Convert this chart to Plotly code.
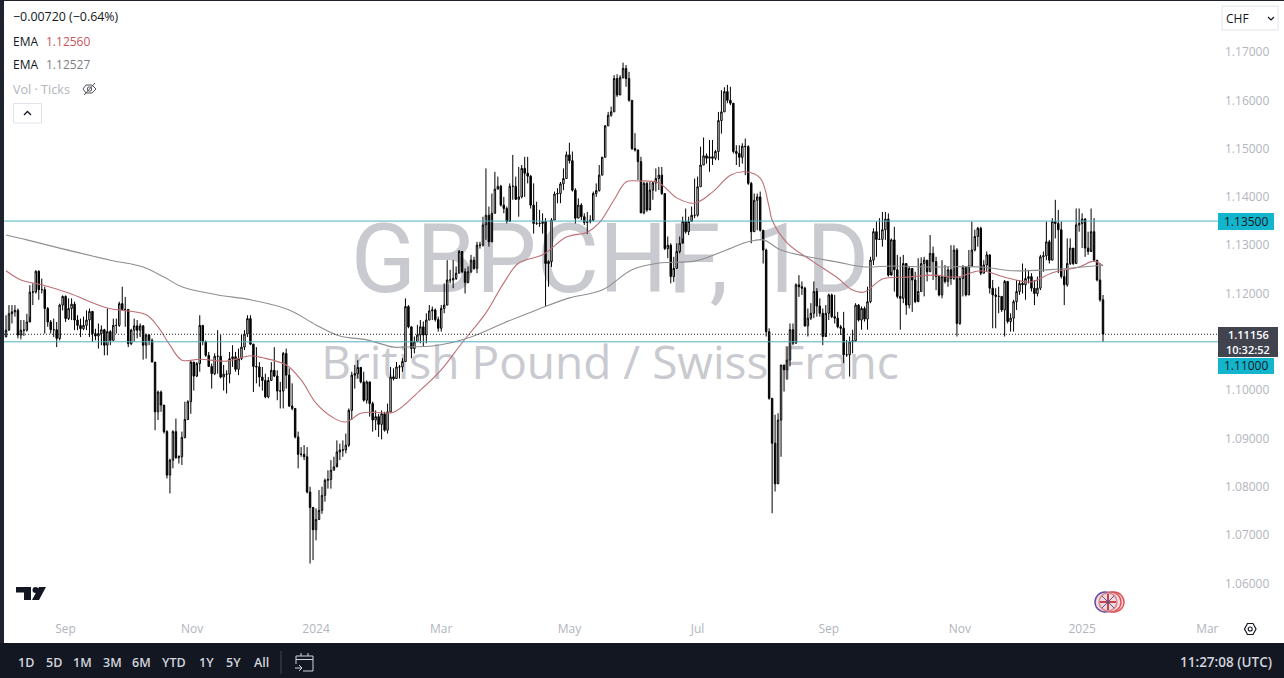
import plotly.graph_objects as go

W, H = 1284, 678

first_open = 1.1110
closes = [
1.1124,1.1158,1.1162,1.1165,1.1114,1.1124,1.1124,1.1141,1.1203,1.1203,1.1246,1.1208,1.1208,1.1169,1.1141,1.1125,1.1125,1.1107,1.1176,1.1194,1.1148,1.1169,1.1178,1.1145,1.1134,1.1127,1.1134,1.1145,1.1163,1.1117,1.1112,1.1117,1.1125,1.1093,1.1121,1.1103,1.1134,1.1134,1.1179,1.1167,1.1167,1.1096,1.1124,1.1133,1.1124,1.1133,1.1093,1.1114,1.1103,1.1058,1.0955,1.0996,1.0969,1.0914,1.0824,1.0855,1.0914,1.0860,1.0862,1.0902,1.0939,1.0976,1.1058,1.1029,1.1055,1.1134,1.1100,1.1072,1.1049,1.1034,1.1070,1.1070,1.1027,1.1033,1.1033,1.1065,1.1069,1.1043,1.1065,1.1089,1.1116,1.1148,1.1095,1.1049,1.1048,1.1027,1.1020,1.0986,1.1020,1.1041,1.1029,1.0998,1.0998,1.1076,1.1031,1.0967,1.0962,1.0903,1.0867,1.0867,1.0862,1.0789,1.0757,1.0711,1.0732,1.0751,1.0782,1.0813,1.0815,1.0834,1.0841,1.0872,1.0876,1.0876,1.0886,1.0958,1.1031,1.1034,1.1047,1.1017,1.0979,1.1017,1.0972,1.0938,1.0945,1.0929,1.0951,1.0917,1.0955,1.1027,1.1024,1.1048,
1.1048,1.1059,1.1173,1.1131,1.1086,1.1100,1.1114,1.1131,1.1114,1.1145,1.1164,1.1166,1.1146,1.1128,1.1169,1.1176,1.1228,1.1228,1.1231,1.1242,1.1287,1.1245,1.1223,1.1245,1.1269,1.1252,1.1300,1.1300,1.1342,1.1362,1.1307,1.1366,1.1416,1.1422,1.1383,1.1376,1.1349,1.1422,1.1422,1.1395,1.1400,1.1459,1.1449,1.1443,1.1383,1.1345,1.1345,1.1345,1.1349,1.1262,1.1266,1.1352,1.1406,1.1407,1.1427,1.1438,1.1487,1.1475,1.1414,1.1356,1.1383,1.1359,1.1347,1.1349,1.1352,1.1407,1.1413,1.1445,1.1482,1.1547,1.1569,1.1576,1.1645,1.1611,1.1647,1.1666,1.1645,1.1600,1.1500,1.1497,1.1473,1.1367,1.1428,1.1373,1.1414,1.1429,1.1438,1.1445,1.1407,1.1293,1.1300,1.1235,1.1252,1.1287,1.1304,1.1349,1.1328,1.1349,1.1362,1.1362,1.1421,1.1466,1.1485,1.1480,1.1483,1.1480,1.1494,1.1558,1.1576,1.1618,1.1600,1.1594,1.1494,1.1490,1.1482,1.1505,1.1504,1.1428,1.1328,1.1393,1.1400,1.1331,1.1290,1.1121,
1.0983,1.0890,1.0806,1.0938,1.1052,1.1042,1.1062,1.1125,1.1097,1.1218,1.1214,1.1211,1.1133,1.1149,1.1159,1.1204,1.1174,1.1159,1.1111,1.1159,1.1197,1.1152,1.1149,1.1131,1.1128,1.1073,1.1073,1.1100,1.1102,1.1176,1.1145,1.1169,1.1147,1.1183,1.1269,1.1328,1.1312,1.1312,1.1332,1.1354,1.1238,1.1311,1.1249,1.1194,1.1190,1.1262,1.1176,1.1252,1.1228,1.1183,1.1204,1.1262,1.1269,1.1245,1.1283,1.1266,1.1235,1.1197,1.1235,1.1225,1.1249,1.1231,1.1290,1.1138,1.1231,1.1254,1.1197,1.1257,1.1290,1.1318,1.1335,1.1242,1.1259,1.1280,1.1211,1.1197,1.1194,1.1194,1.1166,1.1225,1.1142,1.1149,1.1183,1.1204,1.1221,1.1218,1.1231,1.1235,1.1211,1.1200,1.1211,1.1276,1.1278,1.1307,1.1269,1.1349,1.1345,1.1332,1.1235,1.1218,1.1262,1.1294,1.1262,1.1342,1.1345,1.1354,1.1294,1.1287,1.1328,1.1269,1.1228,1.1187,1.1116,
]
highs = [
1.1155,1.1176,1.1176,1.1176,1.1169,1.1145,1.1145,1.1158,1.1217,1.1221,1.1248,1.1248,1.1231,1.1214,1.1172,1.1145,1.1148,1.1141,1.1179,1.1196,1.1196,1.1190,1.1190,1.1183,1.1155,1.1148,1.1152,1.1165,1.1169,1.1163,1.1127,1.1138,1.1134,1.1127,1.1169,1.1124,1.1148,1.1148,1.1183,1.1214,1.1193,1.1165,1.1127,1.1148,1.1145,1.1138,1.1134,1.1117,1.1116,1.1107,1.1058,1.0999,1.0999,1.0969,1.0917,1.0858,1.0917,1.0941,1.0865,1.0914,1.0976,1.0979,1.1062,1.1058,1.1058,1.1155,1.1134,1.1103,1.1079,1.1055,1.1076,1.1124,1.1114,1.1052,1.1041,1.1079,1.1093,1.1079,1.1086,1.1114,1.1124,1.1155,1.1155,1.1096,1.1089,1.1058,1.1048,1.1034,1.1027,1.1058,1.1089,1.1041,1.1017,1.1079,1.1086,1.1045,1.1014,1.0962,1.0914,1.0882,1.0886,1.0882,1.0800,1.0758,1.0755,1.0793,1.0800,1.0817,1.0834,1.0855,1.0862,1.0896,1.0889,1.0896,1.0910,1.0962,1.1038,1.1052,1.1062,1.1045,1.1038,1.1020,1.1017,1.0976,1.0958,1.0951,1.0958,1.0955,1.0972,1.1048,1.1045,1.1058,
1.1052,1.1066,1.1190,1.1176,1.1131,1.1111,1.1135,1.1145,1.1142,1.1159,1.1176,1.1173,1.1169,1.1152,1.1176,1.1221,1.1269,1.1249,1.1269,1.1256,1.1290,1.1288,1.1252,1.1256,1.1280,1.1276,1.1307,1.1307,1.1359,1.1459,1.1380,1.1407,1.1452,1.1442,1.1425,1.1400,1.1380,1.1428,1.1487,1.1442,1.1462,1.1466,1.1483,1.1483,1.1445,1.1428,1.1390,1.1373,1.1366,1.1356,1.1269,1.1356,1.1411,1.1418,1.1431,1.1459,1.1494,1.1512,1.1494,1.1418,1.1397,1.1387,1.1366,1.1369,1.1362,1.1411,1.1428,1.1466,1.1483,1.1549,1.1576,1.1587,1.1652,1.1654,1.1652,1.1678,1.1673,1.1659,1.1600,1.1532,1.1498,1.1483,1.1431,1.1431,1.1431,1.1431,1.1459,1.1462,1.1462,1.1407,1.1318,1.1304,1.1276,1.1304,1.1318,1.1359,1.1376,1.1359,1.1380,1.1438,1.1442,1.1504,1.1523,1.1490,1.1518,1.1518,1.1497,1.1576,1.1621,1.1627,1.1632,1.1628,1.1594,1.1507,1.1507,1.1511,1.1521,1.1507,1.1431,1.1407,1.1407,1.1411,1.1331,1.1293,
1.1128,1.0983,1.0949,1.0952,1.1052,1.1052,1.1090,1.1138,1.1138,1.1221,1.1238,1.1225,1.1214,1.1169,1.1180,1.1225,1.1211,1.1190,1.1169,1.1176,1.1200,1.1200,1.1197,1.1162,1.1135,1.1162,1.1104,1.1111,1.1125,1.1180,1.1178,1.1173,1.1173,1.1214,1.1276,1.1335,1.1349,1.1356,1.1369,1.1369,1.1366,1.1314,1.1338,1.1280,1.1276,1.1280,1.1262,1.1256,1.1252,1.1245,1.1273,1.1275,1.1276,1.1269,1.1321,1.1297,1.1276,1.1238,1.1269,1.1259,1.1256,1.1300,1.1300,1.1294,1.1235,1.1259,1.1257,1.1290,1.1349,1.1332,1.1338,1.1338,1.1269,1.1287,1.1273,1.1228,1.1211,1.1214,1.1190,1.1228,1.1225,1.1159,1.1187,1.1228,1.1228,1.1262,1.1252,1.1249,1.1242,1.1228,1.1235,1.1280,1.1287,1.1349,1.1311,1.1356,1.1394,1.1373,1.1349,1.1249,1.1314,1.1314,1.1294,1.1376,1.1376,1.1366,1.1356,1.1328,1.1376,1.1356,1.1269,1.1262,1.1197,
]
lows = [
1.1110,1.1125,1.1138,1.1152,1.1107,1.1105,1.1112,1.1121,1.1152,1.1176,1.1200,1.1187,1.1200,1.1117,1.1131,1.1117,1.1110,1.1089,1.1103,1.1165,1.1141,1.1145,1.1145,1.1124,1.1124,1.1110,1.1124,1.1124,1.1110,1.1100,1.1103,1.1086,1.1093,1.1072,1.1072,1.1093,1.1102,1.1117,1.1131,1.1165,1.1131,1.1089,1.1093,1.1100,1.1107,1.1110,1.1063,1.1065,1.1093,1.1058,1.0917,1.0938,1.0955,1.0910,1.0817,1.0786,1.0838,1.0858,1.0848,1.0845,1.0900,1.0938,1.0951,1.0999,1.1027,1.1038,1.1093,1.1069,1.1048,1.1003,1.1031,1.1034,1.1024,1.0999,1.0993,1.1014,1.1048,1.1038,1.1031,1.1062,1.1083,1.1110,1.1093,1.0996,1.1014,1.1007,1.0999,1.0983,1.0983,1.1020,1.1027,1.0979,1.0962,1.0962,1.1003,1.0965,1.0958,1.0900,1.0838,1.0862,1.0855,1.0786,1.0641,1.0648,1.0689,1.0731,1.0744,1.0769,1.0796,1.0796,1.0834,1.0848,1.0855,1.0862,1.0869,1.0882,1.0938,1.1003,1.1024,1.1014,1.0976,1.0972,1.0945,1.0914,1.0917,1.0903,1.0898,1.0914,1.0910,1.0955,1.1020,1.1024,
1.1024,1.1038,1.1059,1.1128,1.1066,1.1076,1.1100,1.1097,1.1090,1.1097,1.1145,1.1145,1.1142,1.1121,1.1121,1.1159,1.1176,1.1221,1.1211,1.1228,1.1242,1.1242,1.1200,1.1221,1.1242,1.1249,1.1242,1.1293,1.1297,1.1311,1.1297,1.1362,1.1366,1.1418,1.1380,1.1366,1.1345,1.1352,1.1394,1.1394,1.1359,1.1397,1.1400,1.1428,1.1376,1.1324,1.1342,1.1338,1.1324,1.1173,1.1214,1.1255,1.1352,1.1387,1.1387,1.1414,1.1438,1.1469,1.1411,1.1345,1.1356,1.1352,1.1342,1.1323,1.1345,1.1349,1.1400,1.1411,1.1445,1.1482,1.1547,1.1566,1.1576,1.1607,1.1611,1.1645,1.1628,1.1597,1.1497,1.1494,1.1435,1.1366,1.1364,1.1369,1.1376,1.1394,1.1411,1.1414,1.1404,1.1290,1.1273,1.1221,1.1224,1.1252,1.1283,1.1314,1.1324,1.1321,1.1352,1.1356,1.1359,1.1421,1.1466,1.1469,1.1452,1.1466,1.1476,1.1476,1.1531,1.1576,1.1594,1.1590,1.1490,1.1466,1.1462,1.1469,1.1445,1.1425,1.1304,1.1328,1.1331,1.1328,1.1262,1.1111,
1.0980,1.0745,1.0790,1.0807,1.0862,1.0997,1.1021,1.1049,1.1093,1.1097,1.1193,1.1197,1.1131,1.1111,1.1145,1.1149,1.1152,1.1152,1.1093,1.1118,1.1145,1.1149,1.1138,1.1128,1.1114,1.1056,1.1069,1.1028,1.1076,1.1100,1.1142,1.1125,1.1142,1.1125,1.1180,1.1259,1.1276,1.1311,1.1297,1.1311,1.1235,1.1245,1.1204,1.1190,1.1125,1.1180,1.1156,1.1169,1.1162,1.1180,1.1197,1.1204,1.1194,1.1225,1.1245,1.1228,1.1207,1.1194,1.1190,1.1221,1.1214,1.1218,1.1228,1.1111,1.1135,1.1194,1.1194,1.1197,1.1256,1.1287,1.1297,1.1238,1.1242,1.1245,1.1200,1.1128,1.1128,1.1159,1.1162,1.1111,1.1138,1.1121,1.1121,1.1166,1.1197,1.1200,1.1187,1.1221,1.1204,1.1176,1.1194,1.1207,1.1245,1.1269,1.1262,1.1269,1.1314,1.1242,1.1231,1.1176,1.1214,1.1259,1.1259,1.1262,1.1328,1.1294,1.1276,1.1280,1.1290,1.1266,1.1225,1.1183,1.1100,
]
red_ema_idx = [0,5,12,21,34,47,51,55,59,65,74,82,86,94,99,104,110,114,119,124,130,139,146,153,161,167,172,180,188,195,199,204,208,212,219,225,231,237,243,248,253,256,257,262,271,279,284,288,294,302,311,319,327,336,344,351,360,365,368]
red_ema = [1.1247,1.1228,1.1218,1.1201,1.1170,1.1156,1.1131,1.1093,1.1062,1.1064,1.1060,1.1071,1.1067,1.1052,1.1021,1.0973,1.0942,1.0934,1.0952,1.0954,1.0954,1.1000,1.1042,1.1098,1.1160,1.1222,1.1263,1.1280,1.1317,1.1327,1.1346,1.1394,1.1431,1.1433,1.1429,1.1398,1.1387,1.1410,1.1445,1.1452,1.1439,1.1379,1.1352,1.1305,1.1265,1.1232,1.1207,1.1203,1.1230,1.1234,1.1238,1.1234,1.1247,1.1232,1.1224,1.1243,1.1255,1.1267,1.1257]
gray_ema_idx = [0,7,18,35,46,53,59,71,82,95,104,112,121,130,133,145,156,167,178,189,200,210,219,231,240,249,254,260,269,279,288,297,310,327,338,349,365,368]
gray_ema = [1.1321,1.1311,1.1294,1.1269,1.1255,1.1234,1.1214,1.1197,1.1187,1.1166,1.1135,1.1112,1.1104,1.1089,1.1089,1.1093,1.1110,1.1139,1.1166,1.1191,1.1207,1.1249,1.1263,1.1267,1.1286,1.1307,1.1311,1.1290,1.1276,1.1265,1.1255,1.1257,1.1255,1.1255,1.1247,1.1249,1.1257,1.1259]
price_ticks = [1.06,1.07,1.08,1.09,1.10,1.12,1.13,1.14,1.15,1.16,1.17]
month_labels = ["Sep","Nov","2024","Mar","May","Jul","Sep","Nov","2025","Mar"]
month_idx = [20,62.4,104,146,189,232,276,320,361,403]
support_level = 1.11
resist_level = 1.135
last_price = 1.11156
range_buttons = ["1D","5D","1M","3M","6M","YTD","1Y","5Y","All"]

opens = [first_open] + closes[:-1]
n = len(closes)
xs = list(range(n))
step = (1103 - 6) / (n - 1)
x_of = lambda px: (px - 6) / step
x_range = [x_of(4), x_of(1218)]
y_of = lambda py: 1.17 - (py - 52) / 4830
y_range = [y_of(618), y_of(0)]
FONT = "Open Sans"
DARK = "#131722"

def px(x): return x / W
def py(y): return 1 - y / H

ann = []
def text(x, y, s, size=12, color="#131722", anchor="left", family=FONT, weight=None):
    ann.append(dict(x=px(x), y=py(y), xref="paper", yref="paper", text=s, showarrow=False,
                    xanchor=anchor, yanchor="middle", font=dict(size=size, color=color, family=family, weight=weight),
                    borderpad=0, borderwidth=0))

shapes = []
def rect(x0, y0, x1, y1, fill, line=None, layer="above", lw=1):
    shapes.append(dict(type="rect", xref="paper", yref="paper", x0=px(x0), x1=px(x1), y0=py(y0), y1=py(y1),
                       fillcolor=fill, line=dict(color=line or fill, width=lw if line else 0), layer=layer))
def path(d, fill="rgba(0,0,0,0)", line="#131722", lw=1, layer="above"):
    s = ""
    for c in d:
        s += c[0] if len(c) == 1 else f"{c[0]}{px(c[1]):.6f},{py(c[2]):.6f} "
    shapes.append(dict(type="path", xref="paper", yref="paper", path=s, fillcolor=fill, line=dict(color=line, width=lw), layer=layer))
def circle(cx, cy, r, fill, line, lw=1.5):
    shapes.append(dict(type="circle", xref="paper", yref="paper", x0=px(cx-r), x1=px(cx+r), y0=py(cy+r), y1=py(cy-r),
                       fillcolor=fill, line=dict(color=line, width=lw), layer="above"))

rect(4, 1, W, 643, "#ffffff", layer="below")
rect(0, 643, W, H, DARK, layer="below")

fig = go.Figure()
fig.add_trace(go.Scatter(x=[x_of(610)], y=[y_of(268)], mode="text", text=["GBPCHF, 1D"], showlegend=False,
                         textfont=dict(size=96, color="#c9cacf", family="Roboto"), hoverinfo="skip", cliponaxis=False))
fig.add_trace(go.Scatter(x=[x_of(610)], y=[y_of(367)], mode="text", text=["British Pound / Swiss Franc"], showlegend=False,
                         textfont=dict(size=46, color="#c9cacf", family="Open Sans"), hoverinfo="skip", cliponaxis=False))
fig.add_trace(go.Candlestick(x=xs, open=opens, high=highs, low=lows, close=closes, yaxis="y2",
                             increasing=dict(line=dict(color="#000000", width=1), fillcolor="#ffffff"),
                             decreasing=dict(line=dict(color="#000000", width=1), fillcolor="#000000"),
                             whiskerwidth=0, showlegend=False, hoverinfo="skip"))
fig.add_trace(go.Scatter(x=red_ema_idx, y=red_ema, yaxis="y2", mode="lines", line=dict(color="#bd6f75", width=1.1, shape="spline"), showlegend=False, hoverinfo="skip"))
fig.add_trace(go.Scatter(x=gray_ema_idx, y=gray_ema, yaxis="y2", mode="lines", line=dict(color="#8f8f93", width=1.1, shape="spline"), showlegend=False, hoverinfo="skip"))

for lvl in (support_level, resist_level):
    shapes.append(dict(type="line", xref="x", yref="y2", x0=x_range[0], x1=x_range[1], y0=lvl, y1=lvl,
                       line=dict(color="#4fb3c0", width=1), layer="above"))
shapes.append(dict(type="line", xref="x", yref="y2", x0=x_range[0], x1=x_range[1], y0=last_price, y1=last_price,
                   line=dict(color="#222222", width=1, dash="1px,2px"), layer="above"))

rect(1218, 213, 1274, 230, "#12b5cb")
text(1246, 221.5, f"{resist_level:.5f}", 12, "#131722", "center")
rect(1218, 327, 1278, 357, "#41444f")
text(1248, 334.5, f"{last_price:.5f}", 11, "#ffffff", "center", weight=600)
text(1248, 349, "10:32:52", 11, "#ffffff", "center", weight=600)
rect(1218, 358, 1274, 374, "#12b5cb")
text(1246, 366, f"{support_level:.5f}", 12, "#131722", "center")

text(13, 17, "−0.00720 (−0.64%)", 12.4, "#131722")
text(13, 41, "EMA", 12, "#131722")
text(46, 41, "1.12560", 12, "#c4555d")
text(13, 65, "EMA", 12, "#131722")
text(46, 65, "1.12527", 12, "#7d7f86")
text(13, 89, "Vol · Ticks", 12.6, "#b2b5be")
path([("M",83,89),("L",86,85),("L",92,85),("L",96,89),("L",92,93),("L",86,93),("Z",)], line="#50535e")
circle(89.5, 89, 2.2, "rgba(0,0,0,0)", "#50535e", 1)
path([("M",84,95),("L",95,83)], line="#50535e")
rect(13.5, 103.5, 41.5, 123, "#ffffff", "#e0e3eb")
path([("M",24,115),("L",27.5,111.5),("L",31,115)], line="#131722", lw=1.3)
rect(1222, 6, 1278, 30, "#ffffff", "#e0e3eb")
text(1226, 18, "CHF", 12, "#131722")
path([("M",1268,17),("L",1271,20),("L",1274,17)], line="#131722", lw=1.2)

path([("M",16,587),("L",31,587),("L",31,600),("L",24,600),("L",24,592.5),("L",16,592.5),("Z",)], fill="#131722", line="#131722", lw=0)
circle(35.5, 590, 3, "#131722", "#131722", 0)
path([("M",39,587),("L",46,587),("L",39,600),("L",32,600),("Z",)], fill="#131722", line="#131722", lw=0)

circle(1114, 602, 10, "#f6dfe1", "#e0565b")
circle(1111, 602, 10, "#f6dfe1", "#e0565b")
circle(1105, 602, 10, "#f6dfe1", "#6a4aa0")
circle(1108, 602, 9, "#f3d8dc", "#d9868e")
path([("M",1100,602),("L",1116,602)], line="#c2454e", lw=2)
path([("M",1108,594),("L",1108,610)], line="#c2454e", lw=2)
path([("M",1102,596),("L",1114,608)], line="#4a5a96", lw=1)
path([("M",1114,596),("L",1102,608)], line="#4a5a96", lw=1)

path([("M",1244.5,629),("L",1247.5,623.5),("L",1253,623.5),("L",1256,629),("L",1253,634.5),("L",1247.5,634.5),("Z",)], line="#131722", lw=1.2)
circle(1250.2, 629, 2, "rgba(0,0,0,0)", "#131722", 1.1)

for lab, x in zip(range_buttons, [26,54,83,112,141,174,206,233,261]):
    text(x, 662, lab, 12.5, "#d1d4dc", "center", weight=600)
path([("M",281,651),("L",281,674)], line="#434651")
path([("M",296,656),("L",313,656),("L",313,671),("L",303,671)], line="#d1d4dc")
path([("M",296,656),("L",296,664)], line="#d1d4dc")
path([("M",296,659.5),("L",313,659.5)], line="#d1d4dc")
path([("M",301,653),("L",301,656)], line="#d1d4dc")
path([("M",308,653),("L",308,656)], line="#d1d4dc")
path([("M",295,668),("L",302,668),("M",299,665),("L",302,668),("L",299,671)], line="#d1d4dc")
text(1272, 662, "11:27:08 (UTC)", 13.5, "#d1d4dc", "right", weight=600)

axis_font = dict(size=12, color="#b2b5be", family=FONT)
fig.update_layout(
    width=W, height=H, margin=dict(l=0, r=0, t=0, b=0), autosize=False,
    paper_bgcolor="#1e222d", plot_bgcolor="rgba(0,0,0,0)", showlegend=False,
    shapes=shapes, annotations=ann,
    xaxis=dict(domain=[px(4), px(1218)], range=x_range, rangeslider=dict(visible=False), showgrid=False, zeroline=False,
               showline=False, tickmode="array", tickvals=month_idx, ticktext=month_labels, tickfont=axis_font, ticks="",
               ticklabelstandoff=2),
    yaxis=dict(domain=[py(618), 1], range=y_range, visible=False, showgrid=False, zeroline=False, fixedrange=True),
    yaxis2=dict(overlaying="y", side="right", anchor="x", range=y_range, showgrid=False, zeroline=False, showline=False,
                tickmode="array", tickvals=price_ticks, ticktext=[f"{t:.5f}" for t in price_ticks], tickfont=axis_font, ticks="",
                ticklabelstandoff=6),
)
fig.write_html("out.html", config=dict(displayModeBar=False),
               post_script="document.body.style.margin='0';document.body.style.overflow='hidden';")
